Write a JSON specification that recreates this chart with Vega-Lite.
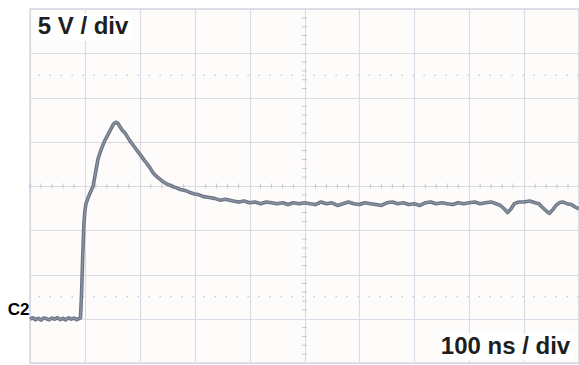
{
  "$schema": "https://vega.github.io/schema/vega-lite/v6.json",
  "width": 549,
  "height": 354,
  "autosize": {"type": "none"},
  "padding": {"left": 30, "top": 9, "right": 0, "bottom": 2},
  "background": "#ffffff",
  "config": {
    "view": {"stroke": "#d6d4e1", "strokeWidth": 1.5, "fill": "#fdfcfa"},
    "axis": {"domain": false, "labels": false, "ticks": false, "title": null, "grid": true, "gridColor": "#dcdae6", "gridWidth": 1.2, "gridOpacity": 1}
  },
  "datasets": {
    "trace": [
      {"ns": 0, "v": -0.05}, {"ns": 5, "v": 0.1}, {"ns": 10, "v": -0.1}, {"ns": 15, "v": 0.05}, {"ns": 20, "v": -0.15},
      {"ns": 25, "v": 0.1}, {"ns": 30, "v": 0}, {"ns": 35, "v": -0.12}, {"ns": 40, "v": 0.08}, {"ns": 45, "v": -0.05},
      {"ns": 50, "v": 0.12}, {"ns": 55, "v": -0.1}, {"ns": 60, "v": 0.05}, {"ns": 65, "v": -0.12}, {"ns": 70, "v": 0.1},
      {"ns": 75, "v": -0.05}, {"ns": 80, "v": 0.08}, {"ns": 85, "v": -0.1}, {"ns": 90, "v": 0.05}, {"ns": 92, "v": 0.1},
      {"ns": 94, "v": 3}, {"ns": 96, "v": 7}, {"ns": 98, "v": 10.5}, {"ns": 100, "v": 12.2}, {"ns": 102, "v": 13},
      {"ns": 106, "v": 13.7}, {"ns": 110, "v": 14.3}, {"ns": 115, "v": 15.0},
      {"ns": 119, "v": 16.4}, {"ns": 124, "v": 18.1}, {"ns": 130, "v": 19.2}, {"ns": 136, "v": 20.1}, {"ns": 142, "v": 20.8},
      {"ns": 147, "v": 21.4}, {"ns": 152, "v": 22.0}, {"ns": 156, "v": 22.2}, {"ns": 160, "v": 22.1}, {"ns": 164, "v": 21.7},
      {"ns": 168, "v": 21.3}, {"ns": 173, "v": 21.0}, {"ns": 178, "v": 20.5}, {"ns": 182, "v": 20.1}, {"ns": 188, "v": 19.6},
      {"ns": 194, "v": 19.1}, {"ns": 200, "v": 18.6}, {"ns": 206, "v": 18.1}, {"ns": 212, "v": 17.6}, {"ns": 218, "v": 17.1},
      {"ns": 223, "v": 16.6}, {"ns": 227, "v": 16.3}, {"ns": 232, "v": 16.0}, {"ns": 236, "v": 15.8}, {"ns": 240, "v": 15.6},
      {"ns": 245, "v": 15.4}, {"ns": 250, "v": 15.2}, {"ns": 255, "v": 15.1}, {"ns": 261, "v": 14.9}, {"ns": 267, "v": 14.8},
      {"ns": 274, "v": 14.6}, {"ns": 282, "v": 14.5}, {"ns": 290, "v": 14.3}, {"ns": 300, "v": 14.1}, {"ns": 308, "v": 14.0},
      {"ns": 316, "v": 13.8}, {"ns": 327, "v": 13.7}, {"ns": 336, "v": 13.6}, {"ns": 346, "v": 13.4}, {"ns": 356, "v": 13.5},
      {"ns": 370, "v": 13.3}, {"ns": 380, "v": 13.2}, {"ns": 390, "v": 13.3}, {"ns": 400, "v": 13.1}, {"ns": 410, "v": 13.2},
      {"ns": 420, "v": 13.0}, {"ns": 430, "v": 13.2}, {"ns": 440, "v": 13.1}, {"ns": 450, "v": 13.0}, {"ns": 460, "v": 13.1},
      {"ns": 470, "v": 12.9}, {"ns": 480, "v": 13.1}, {"ns": 490, "v": 13.0}, {"ns": 500, "v": 13.1}, {"ns": 510, "v": 13.0},
      {"ns": 520, "v": 12.9}, {"ns": 530, "v": 13.2}, {"ns": 540, "v": 13.0}, {"ns": 550, "v": 13.1}, {"ns": 560, "v": 12.8},
      {"ns": 570, "v": 13.0}, {"ns": 580, "v": 13.2}, {"ns": 590, "v": 13.0}, {"ns": 600, "v": 12.9}, {"ns": 610, "v": 13.1},
      {"ns": 620, "v": 13.0}, {"ns": 630, "v": 12.9}, {"ns": 640, "v": 12.8}, {"ns": 650, "v": 13.1}, {"ns": 660, "v": 13.2},
      {"ns": 670, "v": 13.0}, {"ns": 680, "v": 13.1}, {"ns": 690, "v": 12.9}, {"ns": 700, "v": 13.0}, {"ns": 710, "v": 12.8},
      {"ns": 720, "v": 13.1}, {"ns": 730, "v": 13.2}, {"ns": 740, "v": 13.0}, {"ns": 750, "v": 13.1}, {"ns": 760, "v": 13.0},
      {"ns": 770, "v": 12.9}, {"ns": 780, "v": 13.1}, {"ns": 790, "v": 13.0}, {"ns": 800, "v": 13.1}, {"ns": 810, "v": 13.2},
      {"ns": 820, "v": 13.0}, {"ns": 830, "v": 13.1}, {"ns": 840, "v": 13.2}, {"ns": 849, "v": 13.0}, {"ns": 857, "v": 12.8},
      {"ns": 864, "v": 12.4}, {"ns": 870, "v": 12.0}, {"ns": 876, "v": 12.4}, {"ns": 882, "v": 13.0}, {"ns": 891, "v": 13.2},
      {"ns": 900, "v": 13.2}, {"ns": 910, "v": 13.3}, {"ns": 920, "v": 13.1}, {"ns": 927, "v": 13.0}, {"ns": 933, "v": 12.6},
      {"ns": 940, "v": 12.2}, {"ns": 946, "v": 11.9}, {"ns": 952, "v": 12.3}, {"ns": 958, "v": 12.8}, {"ns": 964, "v": 13.1},
      {"ns": 970, "v": 13.2}, {"ns": 978, "v": 13.0}, {"ns": 986, "v": 12.9}, {"ns": 994, "v": 12.6}, {"ns": 1000, "v": 12.4}
    ],
    "hticks": [
      {"ns": 0}, {"ns": 20}, {"ns": 40}, {"ns": 60}, {"ns": 80}, {"ns": 120}, {"ns": 140}, {"ns": 160}, {"ns": 180},
      {"ns": 220}, {"ns": 240}, {"ns": 260}, {"ns": 280}, {"ns": 320}, {"ns": 340}, {"ns": 360}, {"ns": 380},
      {"ns": 420}, {"ns": 440}, {"ns": 460}, {"ns": 480}, {"ns": 520}, {"ns": 540}, {"ns": 560}, {"ns": 580},
      {"ns": 620}, {"ns": 640}, {"ns": 660}, {"ns": 680}, {"ns": 720}, {"ns": 740}, {"ns": 760}, {"ns": 780},
      {"ns": 820}, {"ns": 840}, {"ns": 860}, {"ns": 880}, {"ns": 920}, {"ns": 940}, {"ns": 960}, {"ns": 980}
    ],
    "vticks": [
      {"v": -4}, {"v": -3}, {"v": -2}, {"v": -1}, {"v": 1}, {"v": 2}, {"v": 3}, {"v": 4},
      {"v": 6}, {"v": 7}, {"v": 8}, {"v": 9}, {"v": 11}, {"v": 12}, {"v": 13}, {"v": 14},
      {"v": 16}, {"v": 17}, {"v": 18}, {"v": 19}, {"v": 21}, {"v": 22}, {"v": 23}, {"v": 24},
      {"v": 26}, {"v": 27}, {"v": 28}, {"v": 29}, {"v": 31}, {"v": 32}, {"v": 33}, {"v": 34}
    ],
    "boxes": [
      {"x1": 6, "x2": 185, "y1": 31.4, "y2": 34.5},
      {"x1": 745, "x2": 991, "y1": -4.7, "y2": -1.7}
    ],
    "labels": [
      {"ns": 14, "v": 33.0, "label": "5 V / div", "side": "left"},
      {"ns": 984, "v": -3.2, "label": "100 ns / div", "side": "right"}
    ]
  },
  "layer": [
    {
      "data": {"values": [{"d": 27.5}, {"d": 2.5}]},
      "mark": {"type": "rule", "color": "#c9c7d6", "strokeWidth": 1.2, "strokeDash": [1.5, 9.5]},
      "encoding": {
        "y": {"field": "d", "type": "quantitative", "scale": {"domain": [-5, 35], "nice": false, "zero": false},
              "axis": {"values": [-5, 0, 5, 10, 15, 20, 25, 30, 35]}}
      }
    },
    {
      "data": {"name": "hticks"},
      "mark": {"type": "tick", "orient": "vertical", "size": 5, "thickness": 1, "color": "#b4b2c4"},
      "encoding": {
        "x": {"field": "ns", "type": "quantitative", "scale": {"domain": [0, 1000], "nice": false, "zero": false},
              "axis": {"values": [0, 100, 200, 300, 400, 500, 600, 700, 800, 900, 1000]}},
        "y": {"datum": 15}
      }
    },
    {
      "data": {"name": "vticks"},
      "mark": {"type": "tick", "orient": "horizontal", "size": 5, "thickness": 1, "color": "#b4b2c4"},
      "encoding": {
        "x": {"datum": 500},
        "y": {"field": "v", "type": "quantitative"}
      }
    },
    {
      "data": {"name": "boxes"},
      "mark": {"type": "rect", "color": "#ffffff"},
      "encoding": {
        "x": {"field": "x1", "type": "quantitative"},
        "x2": {"field": "x2"},
        "y": {"field": "y1", "type": "quantitative"},
        "y2": {"field": "y2"}
      }
    },
    {
      "data": {"name": "trace"},
      "mark": {"type": "line", "color": "#6a7383", "strokeWidth": 3.6, "strokeJoin": "round"},
      "encoding": {
        "x": {"field": "ns", "type": "quantitative"},
        "y": {"field": "v", "type": "quantitative"}
      }
    },
    {
      "data": {"name": "trace"},
      "mark": {"type": "line", "color": "#8b93a0", "strokeWidth": 1.4, "strokeJoin": "round"},
      "encoding": {
        "x": {"field": "ns", "type": "quantitative"},
        "y": {"field": "v", "type": "quantitative"}
      }
    },
    {
      "data": {"name": "labels"},
      "transform": [{"filter": "datum.side == 'left'"}],
      "mark": {"type": "text", "align": "left", "baseline": "middle", "font": "Liberation Sans", "fontWeight": "bold", "fontSize": 24, "color": "#1e1e1e"},
      "encoding": {
        "x": {"field": "ns", "type": "quantitative"},
        "y": {"field": "v", "type": "quantitative"},
        "text": {"field": "label"}
      }
    },
    {
      "data": {"name": "labels"},
      "transform": [{"filter": "datum.side == 'right'"}],
      "mark": {"type": "text", "align": "right", "baseline": "middle", "font": "Liberation Sans", "fontWeight": "bold", "fontSize": 24, "color": "#1e1e1e"},
      "encoding": {
        "x": {"field": "ns", "type": "quantitative"},
        "y": {"field": "v", "type": "quantitative"},
        "text": {"field": "label"}
      }
    },
    {
      "data": {"values": [{"ns": -1, "v": 1.0, "label": "C2"}]},
      "mark": {"type": "text", "align": "right", "baseline": "middle", "font": "Liberation Sans", "fontWeight": "bold", "fontSize": 17, "color": "#000000", "clip": false},
      "encoding": {
        "x": {"field": "ns", "type": "quantitative"},
        "y": {"field": "v", "type": "quantitative"},
        "text": {"field": "label"}
      }
    }
  ]
}
